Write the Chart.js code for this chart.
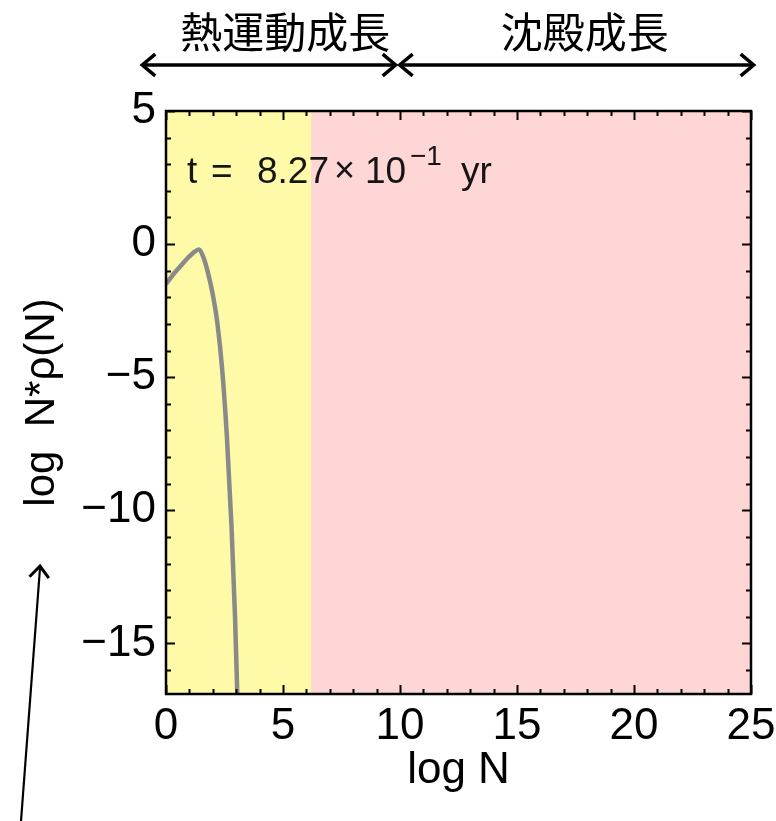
<!DOCTYPE html>
<html><head><meta charset="utf-8">
<script src="https://cdn.jsdelivr.net/npm/chart.js@4"></script>
<style>html,body{margin:0;padding:0;background:#fff;overflow:hidden}#wrap{width:776px;height:821px;position:relative}</style>
</head><body><div id="wrap"><canvas id="c" width="776" height="821"></canvas></div>
<script>
// ---- data ----
const logN    = [0, 0.3, 0.6, 0.9, 1.2, 1.4, 1.6, 1.8, 2.0, 2.2, 2.4, 2.6, 2.8, 2.95, 3.05];
const logNrho = [-1.5, -1.15, -0.85, -0.55, -0.3, -0.2, -0.5, -1.1, -1.9, -3.0, -4.7, -7.2, -10.6, -14.0, -17.0];
const xTicks = [0, 5, 10, 15, 20, 25];
const yTicks = [5, 0, -5, -10, -15];
const regionEdges = [0, 6.2, 25];
const regionColors = ['#fffaa8', '#ffd6d6'];
const phaseLabels = ['熱運動成長', '沈殿成長'];
const phaseLabelX = [5.1, 17.9];
const phaseArrowX = [-1.1, 9.9, 25.2];
const timeText = ['t', '=', '8.27', '×', '10', '−1', 'yr'];

const LAT = '"Liberation Sans", Arial, sans-serif';
const CJK = '"Noto Sans CJK JP", sans-serif';
const fmt = v => (v < 0 ? '\u2212' + Math.abs(v) : String(v));

function arrowHead(ctx, x, y, dir, size) {
  ctx.beginPath();
  ctx.moveTo(x - size * Math.cos(dir - 0.7), y - size * Math.sin(dir - 0.7));
  ctx.lineTo(x, y);
  ctx.lineTo(x - size * Math.cos(dir + 0.7), y - size * Math.sin(dir + 0.7));
  ctx.stroke();
}

const decor = {
  id: 'decor',
  beforeDatasetsDraw(chart) {
    const {ctx, chartArea: a, scales: {x}} = chart;
    ctx.save();
    for (let i = 0; i < regionColors.length; i++) {
      const x0 = x.getPixelForValue(regionEdges[i]);
      const x1 = x.getPixelForValue(regionEdges[i + 1]);
      ctx.fillStyle = regionColors[i];
      ctx.fillRect(x0, a.top, x1 - x0, a.bottom - a.top);
    }
    ctx.restore();
  },
  afterDatasetsDraw(chart) {
    const {ctx, chartArea: a, scales: {x, y}} = chart;
    ctx.save();
    ctx.strokeStyle = '#000';
    ctx.lineWidth = 2;
    ctx.beginPath();
    for (let v = Math.ceil(x.min); v <= x.max; v++) {
      const px = Math.round(x.getPixelForValue(v)) + 0.5;
      const L = v % 5 === 0 ? 9 : 5;
      ctx.moveTo(px, a.bottom); ctx.lineTo(px, a.bottom - L);
      ctx.moveTo(px, a.top); ctx.lineTo(px, a.top + L);
    }
    for (let v = Math.ceil(y.min); v <= y.max; v++) {
      const py = Math.round(y.getPixelForValue(v)) + 0.5;
      const L = v % 5 === 0 ? 9 : 5;
      ctx.moveTo(a.left, py); ctx.lineTo(a.left + L, py);
      ctx.moveTo(a.right, py); ctx.lineTo(a.right - L, py);
    }
    ctx.stroke();
    ctx.lineWidth = 2.5;
    ctx.strokeRect(a.left, a.top, a.right - a.left, a.bottom - a.top);

    // time label
    ctx.fillStyle = '#151515';
    ctx.textBaseline = 'alphabetic';
    ctx.textAlign = 'left';
    const ty = a.top + 72;
    const L0 = a.left;
    const big = '37px ' + LAT;
    const pieces = [
      [timeText[0], 21, big, 0],
      [timeText[1], 45, big, 0],
      [timeText[2], 91, big, 0],
      [timeText[3], 168, '36px ' + LAT, -1],
      [timeText[4], 199, big, 0],
      [timeText[5], 244, '28px ' + LAT, -18],
      [timeText[6], 295, big, 0]
    ];
    for (const [t, dx, f, dy] of pieces) {
      ctx.font = f;
      ctx.fillText(t, L0 + dx, ty + dy);
    }

    // phase arrows and labels
    ctx.strokeStyle = '#000';
    ctx.fillStyle = '#000';
    ctx.lineWidth = 3.5;
    const ay = 65;
    for (let i = 0; i < phaseLabels.length; i++) {
      const x0 = x.getPixelForValue(phaseArrowX[i]) + 2;
      const x1 = x.getPixelForValue(phaseArrowX[i + 1]) - 2;
      ctx.beginPath(); ctx.moveTo(x0, ay); ctx.lineTo(x1, ay); ctx.stroke();
      arrowHead(ctx, x0, ay, Math.PI, 17);
      arrowHead(ctx, x1, ay, 0, 17);
    }
    ctx.font = '42px ' + CJK;
    ctx.textAlign = 'center';
    ctx.textBaseline = 'middle';
    for (let i = 0; i < phaseLabels.length; i++) {
      ctx.fillText(phaseLabels[i], x.getPixelForValue(phaseLabelX[i]), 32);
    }
    // pointer arrow at lower left
    ctx.lineWidth = 2.2;
    ctx.beginPath(); ctx.moveTo(21, 821); ctx.lineTo(40, 568); ctx.stroke();
    ctx.lineWidth = 3;
    arrowHead(ctx, 40, 566, Math.atan2(567 - 821, 40 - 21), 15);
    ctx.restore();
  }
};

new Chart(document.getElementById('c'), {
  type: 'scatter',
  data: {
    datasets: [{
      data: logN.map((v, i) => ({x: v, y: logNrho[i]})),
      showLine: true,
      borderColor: '#8a8a8a',
      borderWidth: 4.5,
      pointRadius: 0,
      cubicInterpolationMode: 'monotone',
      fill: false
    }]
  },
  options: {
    responsive: false,
    animation: false,
    devicePixelRatio: 1,
    layout: {padding: {top: 111, right: 25, left: 0, bottom: 0}},
    plugins: {legend: {display: false}, tooltip: {enabled: false}},
    scales: {
      x: {
        type: 'linear', min: 0, max: 25,
        grid: {display: false, drawTicks: false},
        border: {display: false},
        afterBuildTicks: s => { s.ticks = xTicks.map(v => ({value: v})); },
        afterFit: s => { s.height = 127; s.paddingLeft = 0; s.paddingRight = 0; },
        ticks: {color: '#000', padding: 6, font: {size: 44, family: LAT}, callback: v => fmt(v), maxRotation: 0},
        title: {display: true, text: 'log N', color: '#000', font: {size: 44, family: LAT}, padding: {top: 0, bottom: 24}}
      },
      y: {
        type: 'linear', min: -16.9, max: 5,
        grid: {display: false, drawTicks: false},
        border: {display: false},
        afterBuildTicks: s => { s.ticks = yTicks.map(v => ({value: v})); },
        afterFit: s => { s.width = 166; s.paddingTop = 0; s.paddingBottom = 0; },
        ticks: {color: '#000', padding: 10, font: {size: 44, family: LAT}, callback: v => fmt(v)},
        title: {display: true, text: 'log  N*\u03C1(N)', color: '#000', font: {size: 42, family: LAT}, padding: {top: 17, bottom: 0}}
      }
    }
  },
  plugins: [decor]
});
</script></body></html>
